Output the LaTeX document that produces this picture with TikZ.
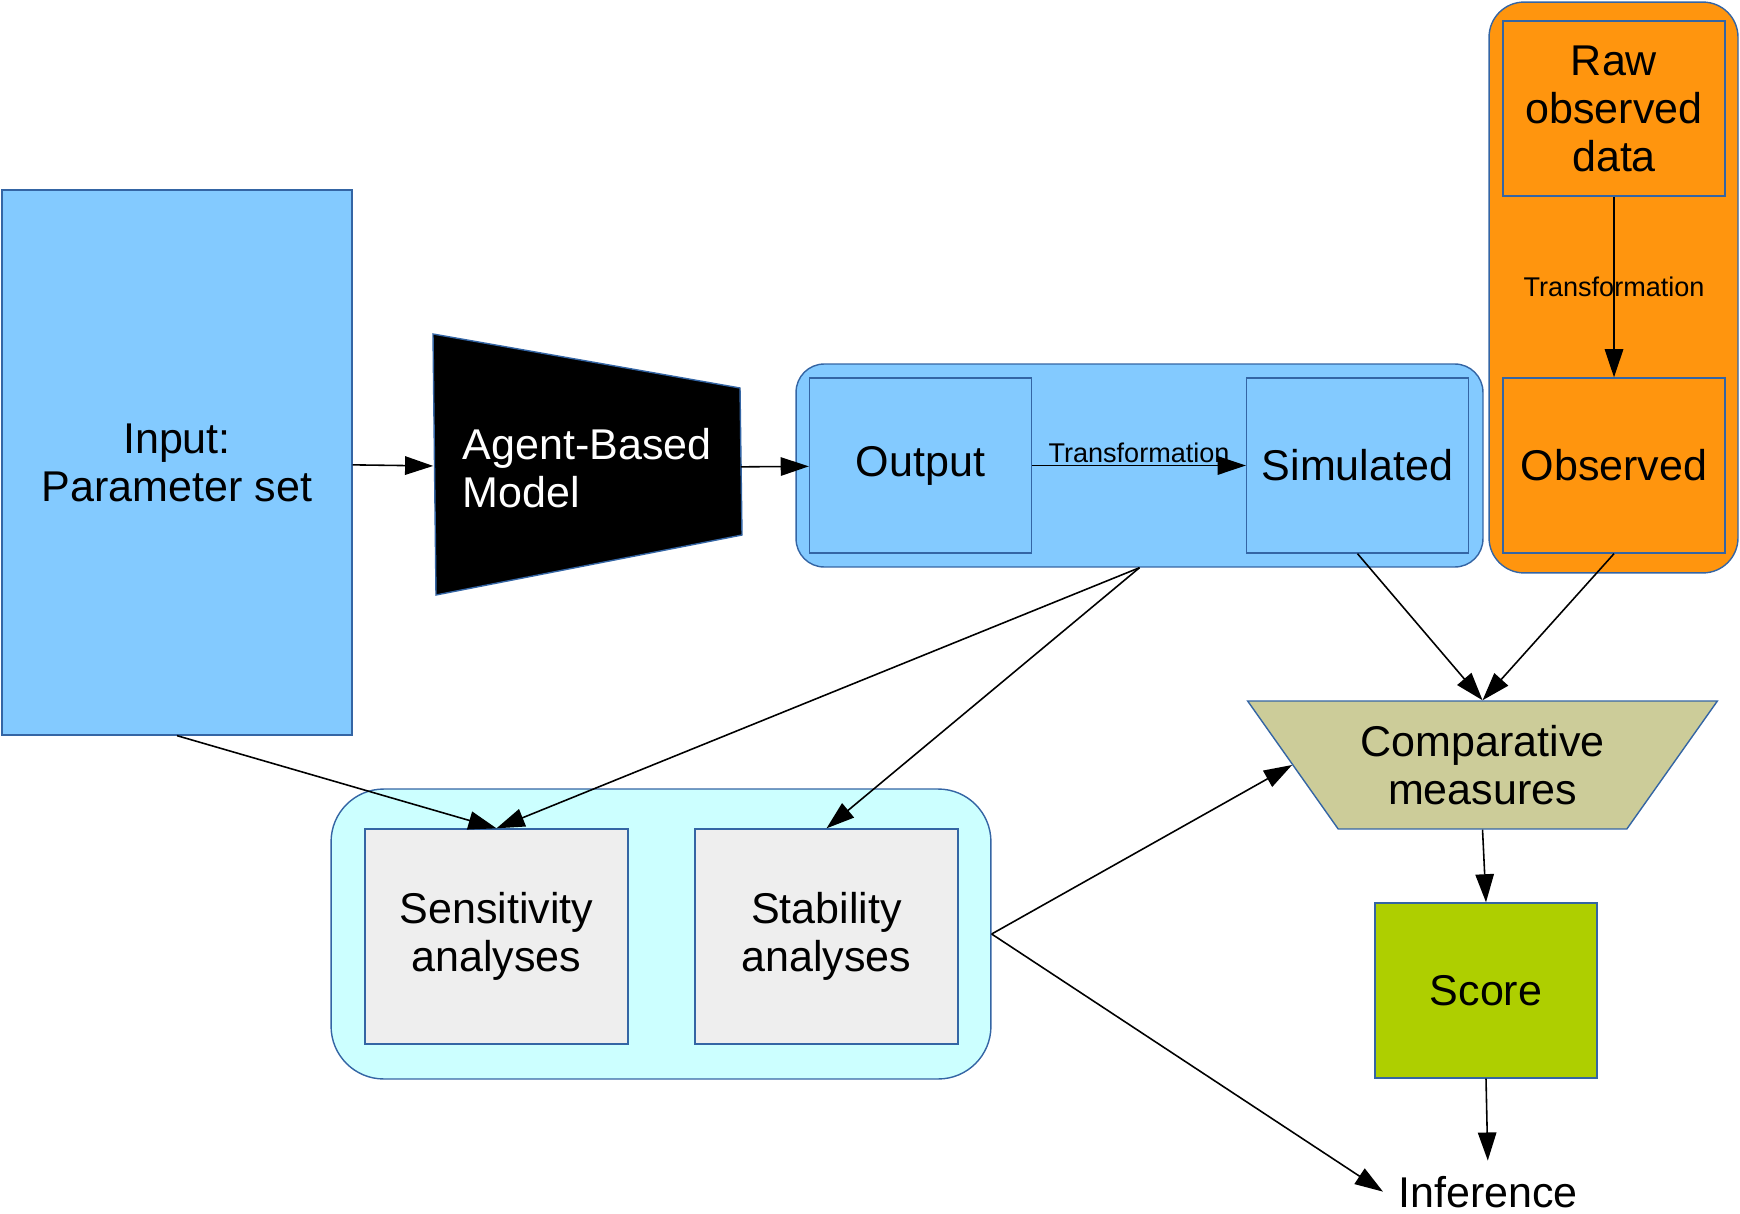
\documentclass[tikz,border=0pt]{standalone}
\usepackage{fontspec}
\setmainfont{Liberation Sans}
\usepackage{xcolor}
\definecolor{ablue}{HTML}{83CAFF}
\definecolor{abord}{HTML}{3465A4}
\definecolor{aorange}{HTML}{FF950E}
\definecolor{acyan}{HTML}{CCFFFF}
\definecolor{agrey}{HTML}{EEEEEE}
\definecolor{akhaki}{HTML}{CCCC99}
\definecolor{agreen}{HTML}{AECF00}
\usetikzlibrary{arrows.meta,positioning,shapes.geometric,calc}

\begin{document}
\begin{tikzpicture}[x=0.02cm,y=-0.02cm,
    every node/.style={font=\fontsize{24.5}{27.3}\selectfont},
    arr/.style={-{Triangle[length=16pt,width=10.5pt]},line width=0.9pt},
    box/.style={draw=abord,line width=0.8pt,minimum width=4.44cm,
        minimum height=3.5cm,align=center},
    grp/.style={draw=abord,line width=0.8pt},
    tlabel/.style={font=\fontsize{15.4}{17}\selectfont}]
  \useasboundingbox (0,0) rectangle (1740,1213);

  %% Groups (behind)
  \node[grp,fill=ablue,rounded corners=16pt,
        minimum width=13.74cm,minimum height=4.06cm] (outgrp) at (1139.5,465.5) {};
  \node[grp,fill=aorange,rounded corners=20pt,
        minimum width=4.98cm,minimum height=11.42cm] (obsgrp) at (1613.5,287.5) {};
  \node[grp,fill=acyan,rounded corners=30pt,
        minimum width=13.2cm,minimum height=5.8cm] (anagrp) at (661,934) {};

  %% Input and model
  \node[box,fill=ablue,minimum width=7cm,minimum height=10.9cm]
        (input) at (177,462.5) {Input:\\Parameter set};
  \filldraw[fill=black,draw=abord,line width=0.8pt]
        (433,334) -- (740,388) -- (742,535) -- (436,595) -- cycle;
  \node[text=white,align=left,minimum width=6.14cm,minimum height=5.22cm]
        (abm) at (587,468) {Agent-Based\\Model};

  %% Simulated side
  \node[box,fill=ablue] (output) at (920.5,465.5) {Output};
  \node[box,fill=ablue] (sim) at (1357.5,465.5) {Simulated};

  %% Observed side
  \node[box,fill=aorange] (raw) at (1614,108.5) {Raw\\observed\\data};
  \node[box,fill=aorange] (obs) at (1614,465.5) {Observed};

  %% Analyses
  \node[box,fill=agrey,minimum width=5.26cm,minimum height=4.3cm]
        (sens) at (496.5,936.5) {Sensitivity\\analyses};
  \node[box,fill=agrey,minimum width=5.26cm,minimum height=4.3cm]
        (stab) at (826.5,936.5) {Stability\\analyses};

  %% Comparison
  \node[trapezium,shape border rotate=180,trapezium left angle=48.7,
        trapezium right angle=48.7,trapezium stretches=true,
        draw=abord,line width=0.8pt,fill=akhaki,align=center,
        minimum width=9.42cm,minimum height=2.56cm]
        (comp) at (1482.5,765) {Comparative\\measures};
  \node[box,fill=agreen] (score) at (1486,990.5) {Score};
  \node[inner xsep=8.5pt,inner ysep=2.5pt,anchor=base] (inf) at (1488,1207) {Inference};

  \draw[arr] (input) -- (abm);
  \draw[arr] (abm) -- (output);
  \draw[arr] (output) -- node[tlabel,above,inner sep=1pt] {Transformation} (sim);
  \draw[arr] (raw) -- node[tlabel] {Transformation} (obs);
  \draw[arr] (input.south) -- (sens.north);
  \draw[arr] (outgrp.south) -- (sens.north);
  \draw[arr] (outgrp.south) -- (stab.north);
  \draw[arr] (sim.south) -- (comp.north);
  \draw[arr] (obs.south) -- (comp.north);
  \draw[arr] (anagrp.east) -- (comp.west);
  \draw[arr] (anagrp.east) -- (inf.west);
  \draw[arr] (comp.south) -- (score.north);
  \draw[arr,shorten >=6pt] (score.south) -- (inf.north);
\end{tikzpicture}
\end{document}
